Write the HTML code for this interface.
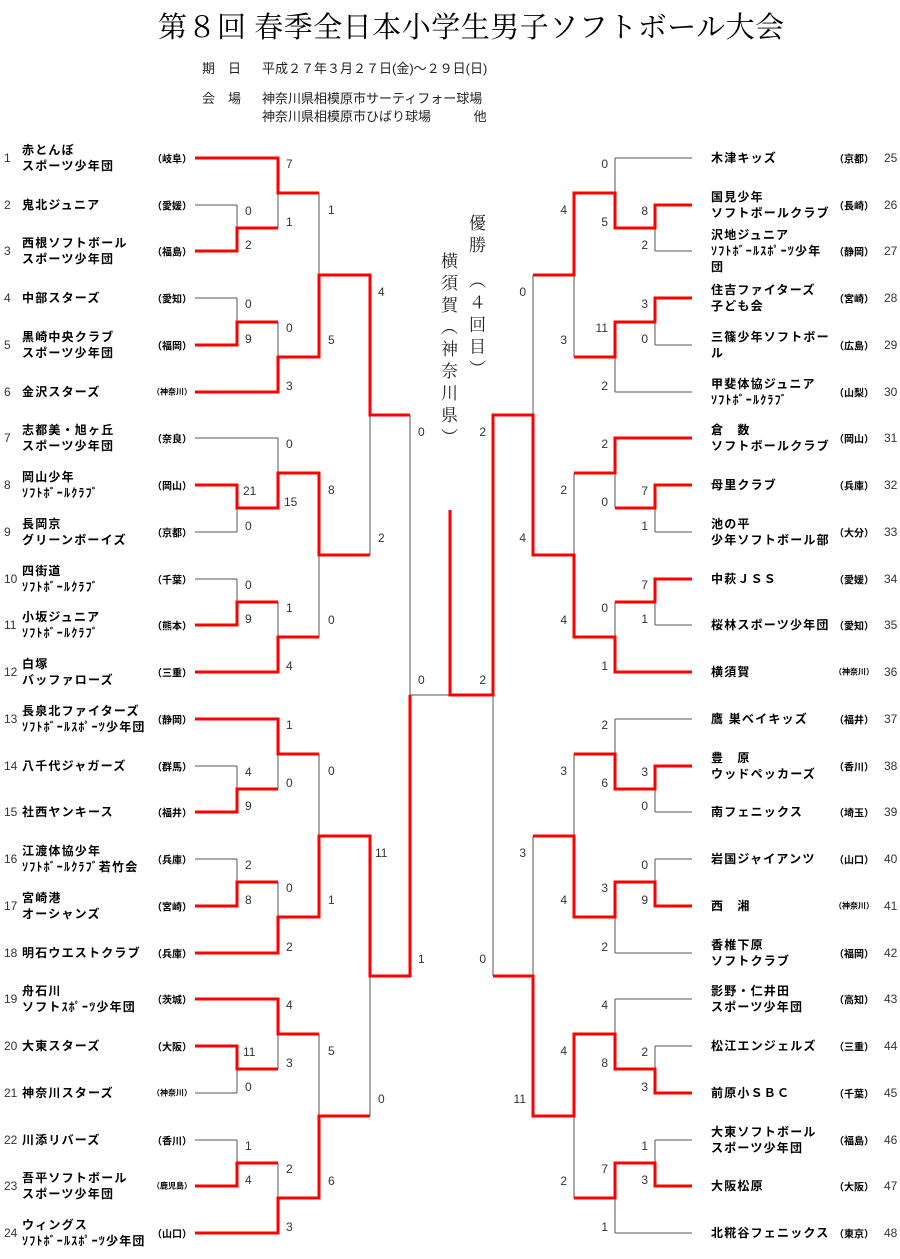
<!DOCTYPE html>
<html><head><meta charset="utf-8">
<style>
body{margin:0;background:#fff;width:900px;height:1259px;position:relative;overflow:hidden;font-family:"Liberation Sans","Noto Sans CJK JP",sans-serif;color:#000}
.title{position:absolute;left:158px;top:5px;font-family:"Liberation Serif","Noto Serif CJK SC",serif;font-size:29px;letter-spacing:0.5px;white-space:nowrap}
.info{position:absolute;font-size:13px;white-space:nowrap;color:#222}
.r{position:absolute;left:0;width:900px;height:0}
.r>span{position:absolute;top:0;transform:translateY(-50%);white-space:nowrap}
.nm{font-weight:bold;font-size:12px;letter-spacing:1.2px;line-height:16px}
.p{font-weight:bold;font-size:10px}
.n{font-size:12px;color:#333}
.L .n{left:4px}.L .nm{left:22px}.L .p{left:152px}
.R .n{left:884px}.R .nm{left:711px}.R .p{left:834px}
.s{position:absolute;font-size:12px;color:#333;transform:translateY(-50%);line-height:12px}
.sr{position:absolute;font-size:12px;color:#333;transform:translateY(-50%);width:30px;text-align:right;line-height:12px}
.v{position:absolute;writing-mode:vertical-rl;font-family:"Liberation Serif","Noto Serif CJK SC",serif;font-size:17px;letter-spacing:5px;color:#222}
</style></head><body>
<div class="title">第８回 春季全日本小学生男子ソフトボール大会</div>
<div class="info" style="left:202px;top:58px">期　日</div>
<div class="info" style="left:262px;top:58px">平成２７年３月２７日(金)～２９日(日)</div>
<div class="info" style="left:202px;top:88px">会　場</div>
<div class="info" style="left:262px;top:88px">神奈川県相模原市サーティフォー球場</div>
<div class="info" style="left:262px;top:106px">神奈川県相模原市ひばり球場　　　 他</div>
<div class="v" style="left:463px;top:214px">優勝　（４回目）</div>
<div class="v" style="left:435px;top:252px">横須賀（神奈川県）</div>

<svg width="900" height="1259" style="position:absolute;left:0;top:0" shape-rendering="crispEdges">
<path fill="none" stroke="#555" stroke-width="1" d="
M195 205H237 M195 298H237 M195 438H278 M195 532H237 M195 579H237 M195 766H237 M195 859H237 M195 1093H237 M195 1140H237
M237 205V228 M237 298V322 M237 508V532 M237 579V602 M237 766V789 M237 859V882 M237 1069V1093 M237 1140V1163
M278 193V228 M278 322V357 M278 438V473 M278 602V637 M278 754V789 M278 882V917 M278 1034V1069 M278 1163V1198
M319 193V275 M319 555V637 M319 754V836 M319 1034V1116
M370 415V555 M370 976V1116 M410 415V695 M410 695H450
M692 158H615 M692 251H655 M692 345H655 M692 392H615 M692 532H655 M692 625H655 M692 719H615 M692 812H655 M692 859H655 M692 953H615 M692 999H615 M692 1046H655 M692 1140H655 M692 1233H615
M655 228V251 M655 322V345 M655 508V532 M655 602V625 M655 789V812 M655 859V882 M655 1046V1069 M655 1140V1163
M615 158V193 M615 357V392 M615 473V508 M615 602V637 M615 719V754 M615 917V953 M615 999V1034 M615 1198V1233
M574 275V357 M574 473V555 M574 754V836 M574 1116V1198
M533 275V415 M533 836V976 M493 695V976"/>
<path fill="none" stroke="#f00" stroke-width="3" stroke-linejoin="miter" d="
M195 158H278V193H319
M195 251H237V228H278
M195 345H237V322H278
M195 392H278V357H319V275H370V415H410
M195 485H237V508H278V473H319V555H370
M195 625H237V602H278
M195 672H278V637H319
M195 719H278V754H319
M195 812H237V789H278
M195 906H237V882H278
M195 953H278V917H319V836H370V976H410V695
M195 999H278V1034H319
M195 1046H237V1069H278
M195 1186H237V1163H278
M195 1233H278V1198H319V1116H370
M692 205H655V228H615V193H574V275H533
M692 298H655V322H615V357H574
M692 438H615V473H574
M692 485H655V508H615
M692 579H655V602H615
M692 672H615V637H574V555H533V415H493V695H450V510
M692 766H655V789H615V754H574
M692 906H655V882H615V917H574V836H533
M692 1093H655V1069H615V1034H574V1116H533V976H493
M692 1186H655V1163H615V1198H574"/>
</svg>

<div class="r L" style="top:158px"><span class="n">1</span><span class="nm">赤とんぼ<br>スポーツ少年団</span><span class="p">（岐阜）</span></div>
<div class="r L" style="top:205px"><span class="n">2</span><span class="nm">鬼北ジュニア</span><span class="p">（愛媛）</span></div>
<div class="r L" style="top:251px"><span class="n">3</span><span class="nm">西根ソフトボール<br>スポーツ少年団</span><span class="p">（福島）</span></div>
<div class="r L" style="top:298px"><span class="n">4</span><span class="nm">中部スターズ</span><span class="p">（愛知）</span></div>
<div class="r L" style="top:345px"><span class="n">5</span><span class="nm">黒崎中央クラブ<br>スポーツ少年団</span><span class="p">（福岡）</span></div>
<div class="r L" style="top:392px"><span class="n">6</span><span class="nm">金沢スターズ</span><span class="p" style="font-size:8px">（神奈川）</span></div>
<div class="r L" style="top:438px"><span class="n">7</span><span class="nm">志都美・旭ヶ丘<br>スポーツ少年団</span><span class="p">（奈良）</span></div>
<div class="r L" style="top:485px"><span class="n">8</span><span class="nm">岡山少年<br>ｿﾌﾄﾎﾞｰﾙｸﾗﾌﾞ</span><span class="p">（岡山）</span></div>
<div class="r L" style="top:532px"><span class="n">9</span><span class="nm">長岡京<br>グリーンボーイズ</span><span class="p">（京都）</span></div>
<div class="r L" style="top:579px"><span class="n">10</span><span class="nm">四街道<br>ｿﾌﾄﾎﾞｰﾙｸﾗﾌﾞ</span><span class="p">（千葉）</span></div>
<div class="r L" style="top:625px"><span class="n">11</span><span class="nm">小坂ジュニア<br>ｿﾌﾄﾎﾞｰﾙｸﾗﾌﾞ</span><span class="p">（熊本）</span></div>
<div class="r L" style="top:672px"><span class="n">12</span><span class="nm">白塚<br>バッファローズ</span><span class="p">（三重）</span></div>
<div class="r L" style="top:719px"><span class="n">13</span><span class="nm">長泉北ファイターズ<br>ｿﾌﾄﾎﾞｰﾙｽﾎﾟｰﾂ少年団</span><span class="p">（静岡）</span></div>
<div class="r L" style="top:766px"><span class="n">14</span><span class="nm">八千代ジャガーズ</span><span class="p">（群馬）</span></div>
<div class="r L" style="top:812px"><span class="n">15</span><span class="nm">社西ヤンキース</span><span class="p">（福井）</span></div>
<div class="r L" style="top:859px"><span class="n">16</span><span class="nm">江渡体協少年<br>ｿﾌﾄﾎﾞｰﾙｸﾗﾌﾞ若竹会</span><span class="p">（兵庫）</span></div>
<div class="r L" style="top:906px"><span class="n">17</span><span class="nm">宮崎港<br>オーシャンズ</span><span class="p">（宮崎）</span></div>
<div class="r L" style="top:953px"><span class="n">18</span><span class="nm">明石ウエストクラブ</span><span class="p">（兵庫）</span></div>
<div class="r L" style="top:999px"><span class="n">19</span><span class="nm">舟石川<br>ソフトｽﾎﾟｰﾂ少年団</span><span class="p">（茨城）</span></div>
<div class="r L" style="top:1046px"><span class="n">20</span><span class="nm">大東スターズ</span><span class="p">（大阪）</span></div>
<div class="r L" style="top:1093px"><span class="n">21</span><span class="nm">神奈川スターズ</span><span class="p" style="font-size:8px">（神奈川）</span></div>
<div class="r L" style="top:1140px"><span class="n">22</span><span class="nm">川添リバーズ</span><span class="p">（香川）</span></div>
<div class="r L" style="top:1186px"><span class="n">23</span><span class="nm">吾平ソフトボール<br>スポーツ少年団</span><span class="p" style="font-size:8px">（鹿児島）</span></div>
<div class="r L" style="top:1233px"><span class="n">24</span><span class="nm">ウィングス<br>ｿﾌﾄﾎﾞｰﾙｽﾎﾟｰﾂ少年団</span><span class="p">（山口）</span></div>

<div class="r R" style="top:158px"><span class="nm">木津キッズ</span><span class="p">（京都）</span><span class="n">25</span></div>
<div class="r R" style="top:205px"><span class="nm">国見少年<br>ソフトボールクラブ</span><span class="p">（長崎）</span><span class="n">26</span></div>
<div class="r R" style="top:251px"><span class="nm">沢地ジュニア<br>ｿﾌﾄﾎﾞｰﾙｽﾎﾟｰﾂ少年<br>団</span><span class="p">（静岡）</span><span class="n">27</span></div>
<div class="r R" style="top:298px"><span class="nm">住吉ファイターズ<br>子ども会</span><span class="p">（宮崎）</span><span class="n">28</span></div>
<div class="r R" style="top:345px"><span class="nm">三篠少年ソフトボー<br>ル</span><span class="p">（広島）</span><span class="n">29</span></div>
<div class="r R" style="top:392px"><span class="nm">甲斐体協ジュニア<br>ｿﾌﾄﾎﾞｰﾙｸﾗﾌﾞ</span><span class="p">（山梨）</span><span class="n">30</span></div>
<div class="r R" style="top:438px"><span class="nm">倉　数<br>ソフトボールクラブ</span><span class="p">（岡山）</span><span class="n">31</span></div>
<div class="r R" style="top:485px"><span class="nm">母里クラブ</span><span class="p">（兵庫）</span><span class="n">32</span></div>
<div class="r R" style="top:532px"><span class="nm">池の平<br>少年ソフトボール部</span><span class="p">（大分）</span><span class="n">33</span></div>
<div class="r R" style="top:579px"><span class="nm">中萩ＪＳＳ</span><span class="p">（愛媛）</span><span class="n">34</span></div>
<div class="r R" style="top:625px"><span class="nm">桜林スポーツ少年団</span><span class="p">（愛知）</span><span class="n">35</span></div>
<div class="r R" style="top:672px"><span class="nm">横須賀</span><span class="p" style="font-size:8px">（神奈川）</span><span class="n">36</span></div>
<div class="r R" style="top:719px"><span class="nm">鷹 巣ベイキッズ</span><span class="p">（福井）</span><span class="n">37</span></div>
<div class="r R" style="top:766px"><span class="nm">豊　原<br>ウッドペッカーズ</span><span class="p">（香川）</span><span class="n">38</span></div>
<div class="r R" style="top:812px"><span class="nm">南フェニックス</span><span class="p">（埼玉）</span><span class="n">39</span></div>
<div class="r R" style="top:859px"><span class="nm">岩国ジャイアンツ</span><span class="p">（山口）</span><span class="n">40</span></div>
<div class="r R" style="top:906px"><span class="nm">西　湘</span><span class="p" style="font-size:8px">（神奈川）</span><span class="n">41</span></div>
<div class="r R" style="top:953px"><span class="nm">香椎下原<br>ソフトクラブ</span><span class="p">（福岡）</span><span class="n">42</span></div>
<div class="r R" style="top:999px"><span class="nm">影野・仁井田<br>スポーツ少年団</span><span class="p">（高知）</span><span class="n">43</span></div>
<div class="r R" style="top:1046px"><span class="nm">松江エンジェルズ</span><span class="p">（三重）</span><span class="n">44</span></div>
<div class="r R" style="top:1093px"><span class="nm">前原小ＳＢＣ</span><span class="p">（千葉）</span><span class="n">45</span></div>
<div class="r R" style="top:1140px"><span class="nm">大東ソフトボール<br>スポーツ少年団</span><span class="p">（福島）</span><span class="n">46</span></div>
<div class="r R" style="top:1186px"><span class="nm">大阪松原</span><span class="p">（大阪）</span><span class="n">47</span></div>
<div class="r R" style="top:1233px"><span class="nm">北糀谷フェニックス</span><span class="p">（東京）</span><span class="n">48</span></div>

<div class="s" style="left:245px;top:211px">0</div><div class="s" style="left:245px;top:245px">2</div>
<div class="s" style="left:245px;top:304px">0</div><div class="s" style="left:245px;top:339px">9</div>
<div class="s" style="left:243px;top:491px">21</div><div class="s" style="left:245px;top:526px">0</div>
<div class="s" style="left:245px;top:585px">0</div><div class="s" style="left:245px;top:619px">9</div>
<div class="s" style="left:245px;top:772px">4</div><div class="s" style="left:245px;top:806px">9</div>
<div class="s" style="left:245px;top:865px">2</div><div class="s" style="left:245px;top:900px">8</div>
<div class="s" style="left:243px;top:1052px">11</div><div class="s" style="left:245px;top:1087px">0</div>
<div class="s" style="left:245px;top:1146px">1</div><div class="s" style="left:245px;top:1180px">4</div>

<div class="s" style="left:286px;top:164px">7</div><div class="s" style="left:286px;top:222px">1</div>
<div class="s" style="left:286px;top:328px">0</div><div class="s" style="left:286px;top:386px">3</div>
<div class="s" style="left:286px;top:444px">0</div><div class="s" style="left:284px;top:502px">15</div>
<div class="s" style="left:286px;top:608px">1</div><div class="s" style="left:286px;top:666px">4</div>
<div class="s" style="left:286px;top:725px">1</div><div class="s" style="left:286px;top:783px">0</div>
<div class="s" style="left:286px;top:888px">0</div><div class="s" style="left:286px;top:947px">2</div>
<div class="s" style="left:286px;top:1005px">4</div><div class="s" style="left:286px;top:1063px">3</div>
<div class="s" style="left:286px;top:1169px">2</div><div class="s" style="left:286px;top:1227px">3</div>

<div class="s" style="left:328px;top:210px">1</div><div class="s" style="left:328px;top:340px">5</div>
<div class="s" style="left:328px;top:490px">8</div><div class="s" style="left:328px;top:620px">0</div>
<div class="s" style="left:328px;top:771px">0</div><div class="s" style="left:328px;top:900px">1</div>
<div class="s" style="left:328px;top:1051px">5</div><div class="s" style="left:328px;top:1181px">6</div>

<div class="s" style="left:378px;top:292px">4</div><div class="s" style="left:378px;top:538px">2</div>
<div class="s" style="left:375px;top:853px">11</div><div class="s" style="left:378px;top:1099px">0</div>
<div class="s" style="left:418px;top:432px">0</div><div class="s" style="left:418px;top:959px">1</div>
<div class="s" style="left:418px;top:680px">0</div>

<div class="sr" style="left:618px;top:211px">8</div><div class="sr" style="left:618px;top:245px">2</div>
<div class="sr" style="left:618px;top:304px">3</div><div class="sr" style="left:618px;top:339px">0</div>
<div class="sr" style="left:618px;top:491px">7</div><div class="sr" style="left:618px;top:526px">1</div>
<div class="sr" style="left:618px;top:585px">7</div><div class="sr" style="left:618px;top:619px">1</div>
<div class="sr" style="left:618px;top:772px">3</div><div class="sr" style="left:618px;top:806px">0</div>
<div class="sr" style="left:618px;top:865px">0</div><div class="sr" style="left:618px;top:900px">9</div>
<div class="sr" style="left:618px;top:1052px">2</div><div class="sr" style="left:618px;top:1087px">3</div>
<div class="sr" style="left:618px;top:1146px">1</div><div class="sr" style="left:618px;top:1180px">3</div>

<div class="sr" style="left:578px;top:164px">0</div><div class="sr" style="left:578px;top:222px">5</div>
<div class="sr" style="left:578px;top:328px">11</div><div class="sr" style="left:578px;top:386px">2</div>
<div class="sr" style="left:578px;top:444px">2</div><div class="sr" style="left:578px;top:502px">0</div>
<div class="sr" style="left:578px;top:608px">0</div><div class="sr" style="left:578px;top:666px">1</div>
<div class="sr" style="left:578px;top:725px">2</div><div class="sr" style="left:578px;top:783px">6</div>
<div class="sr" style="left:578px;top:888px">3</div><div class="sr" style="left:578px;top:947px">2</div>
<div class="sr" style="left:578px;top:1005px">4</div><div class="sr" style="left:578px;top:1063px">8</div>
<div class="sr" style="left:578px;top:1169px">7</div><div class="sr" style="left:578px;top:1227px">1</div>

<div class="sr" style="left:537px;top:210px">4</div><div class="sr" style="left:537px;top:340px">3</div>
<div class="sr" style="left:537px;top:490px">2</div><div class="sr" style="left:537px;top:620px">4</div>
<div class="sr" style="left:537px;top:771px">3</div><div class="sr" style="left:537px;top:900px">4</div>
<div class="sr" style="left:537px;top:1051px">4</div><div class="sr" style="left:537px;top:1181px">2</div>

<div class="sr" style="left:496px;top:292px">0</div><div class="sr" style="left:496px;top:538px">4</div>
<div class="sr" style="left:496px;top:853px">3</div><div class="sr" style="left:496px;top:1099px">11</div>
<div class="sr" style="left:456px;top:432px">2</div><div class="sr" style="left:456px;top:959px">0</div>
<div class="sr" style="left:456px;top:680px">2</div>
</body></html>
